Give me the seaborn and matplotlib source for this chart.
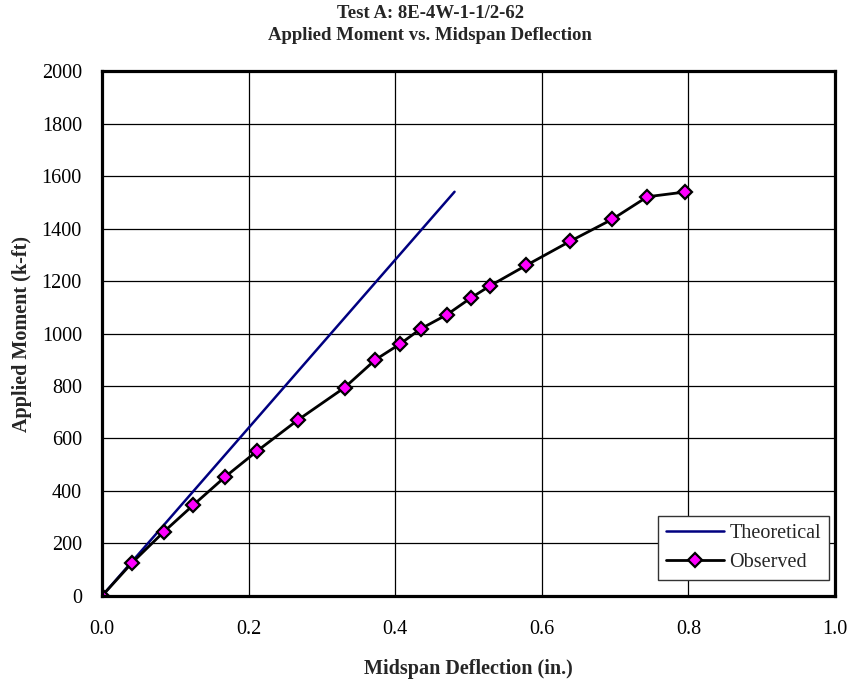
import matplotlib
matplotlib.use("Agg")
import matplotlib.pyplot as plt
import seaborn as sns
import pandas as pd

# observed test data
obs_defl = [0.0, 0.0405, 0.0846, 0.124, 0.168, 0.212, 0.267, 0.331, 0.373, 0.4065,
            0.435, 0.4707, 0.503, 0.529, 0.579, 0.639, 0.696, 0.744, 0.795]
obs_moment = [0, 125, 245, 345, 454, 553, 670, 794, 900, 960,
              1018, 1072, 1135, 1181, 1260, 1352, 1435, 1521, 1539]

# theoretical line
theo_defl = [0.0, 0.481]
theo_moment = [0, 1540]

x_ticks = [0.0, 0.2, 0.4, 0.6, 0.8, 1.0]
x_tick_labels = ["0.0", "0.2", "0.4", "0.6", "0.8", "1.0"]

sns.set_theme(style="white")
plt.rcParams['font.family'] = ['Liberation Serif', 'DejaVu Serif']

fig = plt.figure(figsize=(8.52, 6.83), dpi=100)
ax = fig.add_axes([0.1197, 0.1274, 0.8603, 0.7686])

obs = pd.DataFrame({"defl": obs_defl, "moment": obs_moment})
theo = pd.DataFrame({"defl": theo_defl, "moment": theo_moment})

sns.lineplot(data=theo, x="defl", y="moment", color="#000080", linewidth=1.8,
             label="Theoretical", ax=ax, sort=False)
sns.lineplot(data=obs, x="defl", y="moment", color="black", linewidth=2,
             marker="D", markersize=7, markerfacecolor="#ff00ff",
             markeredgecolor="black", markeredgewidth=1.6,
             label="Observed", ax=ax, sort=False)

ax.set_xlim(0, 1.0)
ax.set_ylim(0, 2000)
ax.set_xticks(x_ticks)
ax.set_xticklabels(x_tick_labels)
ax.set_yticks(range(0, 2001, 200))
ax.grid(True, color="black", linewidth=0.9)
ax.set_axisbelow(True)
for s in ax.spines.values():
    s.set_color("black")
    s.set_linewidth(2.3)
ax.tick_params(axis="both", direction="inout", length=11, width=1.8,
               labelsize=14.5, colors="black")
ax.tick_params(axis="x", pad=12)
ax.tick_params(axis="y", pad=9)

ax.set_xlabel("Midspan Deflection (in.)", fontsize=14.5, fontweight="bold", labelpad=14)
ax.set_ylabel("Applied Moment (k-ft)", fontsize=14.5, fontweight="bold", labelpad=7)

fig.text(0.505, 1 - 13 / 683, "Test A: 8E-4W-1-1/2-62", ha="center", va="center",
         fontsize=13.5, fontweight="bold")
fig.text(0.505, 1 - 35 / 683, "Applied Moment vs. Midspan Deflection", ha="center",
         va="center", fontsize=13.5, fontweight="bold")

leg = ax.legend(loc="lower right", bbox_to_anchor=(0.992, 0.030), borderaxespad=0,
                fontsize=14.5, frameon=True, fancybox=False, edgecolor="#333333",
                framealpha=1, borderpad=0.4, handlelength=2.9,
                handletextpad=0.25, labelspacing=0.5)
leg.get_frame().set_linewidth(1)

fig.savefig("out.png", dpi=100)
